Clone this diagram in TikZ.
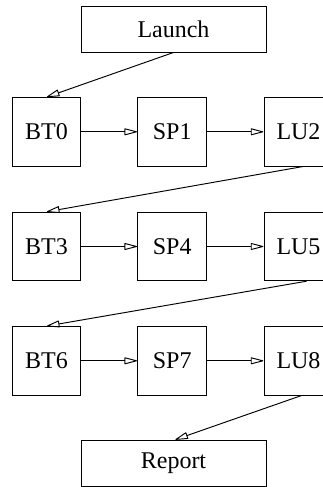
\documentclass[tikz,border=0pt]{standalone}
\usepackage{fontspec}
\setmainfont{Liberation Serif}
\usetikzlibrary{arrows.meta}
\begin{document}
\begin{tikzpicture}[x=1pt,y=-1pt,
  box/.style={draw,line width=0.95pt,minimum width=68.5pt,minimum height=68.5pt,
    inner sep=0pt,font=\fontsize{24}{26}\selectfont},
  wide/.style={draw,line width=0.95pt,minimum width=185pt,minimum height=46pt,
    inner sep=0pt,font=\fontsize{24}{26}\selectfont},
  arr/.style={line width=0.95pt,shorten >=0.5pt,
    -{Triangle[open,length=14pt,width=7pt,line width=0.95pt,round]}}]
\useasboundingbox (0,0) rectangle (323,487);
\clip (0,0) rectangle (323,487);

% start and end of the run
\node[wide] (launch) at (173.5,29) {Launch};
\node[wide] (report) at (173.5,463.2) {Report};

% three rows of BT -> SP -> LU
\node[box] (BT0) at (46.5,131.8) {BT0};
\node[box] (SP1) at (172.2,131.8) {SP1};
\node[box] (LU2) at (298.5,131.8) {LU2};
\node[box] (BT3) at (46.5,246.5) {BT3};
\node[box] (SP4) at (172.2,246.5) {SP4};
\node[box] (LU5) at (298.5,246.5) {LU5};
\node[box] (BT6) at (46.5,360.8) {BT6};
\node[box] (SP7) at (172.2,360.8) {SP7};
\node[box] (LU8) at (298.5,360.8) {LU8};

% connectors
\draw[arr] (launch.south) -- (BT0.north);
\draw[arr] (BT0) -- (SP1);
\draw[arr] (SP1) -- (LU2);
\draw[arr] ([xshift=4.5pt]LU2.south) -- (BT3.north);
\draw[arr] (BT3) -- (SP4);
\draw[arr] (SP4) -- (LU5);
\draw[arr] ([xshift=8pt]LU5.south) -- (BT6.north);
\draw[arr] (BT6) -- (SP7);
\draw[arr] (SP7) -- (LU8);
\draw[arr] ([xshift=3pt]LU8.south) -- ([xshift=1.5pt]report.north);
\end{tikzpicture}
\end{document}
